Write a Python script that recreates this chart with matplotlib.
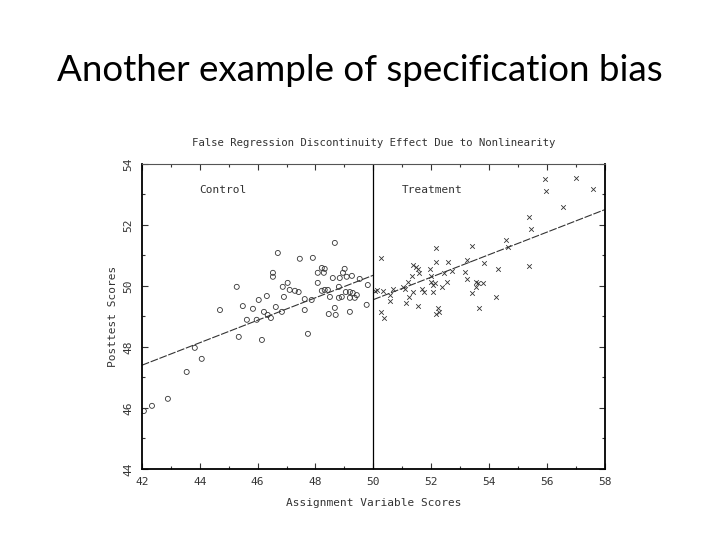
import matplotlib
matplotlib.use("Agg")
import matplotlib.pyplot as plt
import numpy as np

# control group (circles)
ctrl_x = [42.07, 42.35, 42.90, 43.55, 43.83, 44.07, 44.70, 45.28, 45.35, 45.49,
          45.63, 45.84, 45.97, 46.04, 46.15, 46.22, 46.32, 46.35, 46.46, 46.53,
          46.53, 46.63, 46.70, 46.84, 46.87, 46.91, 47.04, 47.11, 47.29, 47.42,
          47.46, 47.63, 47.63, 47.74, 47.87, 47.91, 48.08, 48.08, 48.22, 48.32,
          48.29, 48.22, 48.32, 48.43, 48.50, 48.46, 48.60, 48.67, 48.67, 48.70,
          48.81, 48.81, 48.84, 48.91, 48.95, 49.01, 49.05, 49.08, 49.19, 49.19,
          49.19, 49.26, 49.29, 49.36, 49.43, 49.53, 49.77, 49.81]
ctrl_y = [45.90, 46.07, 46.30, 47.18, 47.97, 47.61, 49.21, 49.97, 48.33, 49.34,
          48.89, 49.25, 48.89, 49.54, 48.23, 49.15, 49.67, 49.05, 48.95, 50.43,
          50.30, 49.31, 51.08, 49.15, 49.97, 49.64, 50.10, 49.87, 49.84, 49.80,
          50.89, 49.57, 49.21, 48.43, 49.54, 50.92, 50.43, 50.10, 50.59, 50.56,
          50.43, 49.84, 49.87, 49.87, 49.64, 49.08, 50.26, 51.41, 49.28, 49.05,
          49.97, 49.61, 50.26, 49.64, 50.43, 50.56, 49.80, 50.30, 49.80, 49.61,
          49.15, 50.33, 49.77, 49.61, 49.70, 50.23, 49.38, 50.03]

# treatment group (crosses)
treat_x = [50.26, 50.05, 50.12, 50.33, 50.57, 50.67, 50.57, 50.26, 50.36, 51.02,
           51.09, 51.19, 51.12, 51.23, 51.36, 51.54, 51.36, 51.47, 51.54, 51.57,
           51.33, 51.68, 51.75, 51.95, 51.99, 51.99, 52.13, 52.06, 52.06, 52.16,
           52.16, 52.23, 52.16, 52.26, 52.37, 52.44, 52.54, 52.58, 52.71, 53.16,
           53.23, 53.23, 53.40, 53.40, 53.54, 53.61, 53.78, 53.54, 53.65, 53.82,
           54.23, 54.30, 54.58, 54.65, 55.37, 55.37, 55.44, 55.93, 55.96, 56.55,
           57.00, 57.58]
treat_y = [50.92, 49.84, 49.87, 49.84, 49.70, 49.90, 49.51, 49.15, 48.95, 49.97,
           49.90, 50.13, 49.44, 49.64, 49.80, 49.34, 50.69, 50.62, 50.56, 50.43,
           50.33, 49.90, 49.80, 50.56, 50.33, 50.13, 50.10, 50.03, 49.80, 51.25,
           50.79, 49.28, 49.08, 49.15, 49.97, 50.43, 50.13, 50.79, 50.49, 50.46,
           50.23, 50.85, 51.31, 49.77, 50.13, 50.10, 50.10, 49.97, 49.28, 50.75,
           49.64, 50.56, 51.51, 51.28, 50.66, 52.26, 51.87, 53.51, 53.11, 52.59,
           53.54, 53.18]

# fitted lines, endpoints
ctrl_fit_x = [42, 50]
ctrl_fit_y = [47.40, 50.35]
treat_fit_x = [50, 58]
treat_fit_y = [49.55, 52.50]

cutoff = 50
x_ticks = [42, 44, 46, 48, 50, 52, 54, 56, 58]
y_ticks = [44, 46, 48, 50, 52, 54]

mono = "DejaVu Sans Mono"
ink = "#333333"

fig = plt.figure(figsize=(7.2, 5.4), dpi=100)
fig.set_facecolor("white")
fig.text(0.5, 0.87, "Another example of specification bias", ha="center", va="center",
         fontsize=26.5, family="Lato", color="black")

ax = fig.add_axes([0.197, 0.1315, 0.643, 0.565])
ax.scatter(ctrl_x, ctrl_y, s=13, marker="o", facecolors="none", edgecolors=ink, linewidths=0.6)
ax.scatter(treat_x, treat_y, s=11, marker="x", color=ink, linewidths=0.6)
ax.plot(ctrl_fit_x, ctrl_fit_y, color=ink, lw=0.8, dashes=(7, 1.5))
ax.plot(treat_fit_x, treat_fit_y, color=ink, lw=0.8, dashes=(7, 1.5))
ax.axvline(cutoff, color="black", lw=0.9)

ax.set_xlim(42, 58)
ax.set_ylim(44, 54)
ax.set_xticks(x_ticks)
ax.set_yticks(y_ticks)
ax.set_xticks(np.arange(43, 58, 2), minor=True)
ax.set_yticks(np.arange(45, 54, 2), minor=True)
ax.tick_params(which="both", direction="in", top=True, right=True, length=4, width=0.8, color=ink)
ax.tick_params(which="minor", length=2.5)
ax.tick_params(axis="x", labelsize=8, pad=6, labelcolor=ink)
ax.tick_params(axis="y", labelsize=8, pad=6, labelcolor=ink)
for lab in ax.get_xticklabels():
    lab.set_family(mono)
for lab in ax.get_yticklabels():
    lab.set_family(mono)
    lab.set_rotation(90)
    lab.set_va("center")
for side in ["left", "right", "bottom"]:
    ax.spines[side].set_linewidth(1.3)
ax.spines["top"].set_linewidth(0.8)
ax.spines["top"].set_color("#555555")

ax.text(44.0, 53.15, "Control", family=mono, fontsize=8, color=ink, va="center")
ax.text(51.0, 53.15, "Treatment", family=mono, fontsize=8, color=ink, va="center")
ax.set_title("False Regression Discontinuity Effect Due to Nonlinearity", family=mono,
             fontsize=7.7, color=ink, pad=13)
ax.set_xlabel("Assignment Variable Scores", family=mono, fontsize=8, color=ink, labelpad=8)
ax.set_ylabel("Posttest Scores", family=mono, fontsize=8, color=ink, labelpad=4)

fig.savefig("out.png", dpi=100, facecolor="white")
